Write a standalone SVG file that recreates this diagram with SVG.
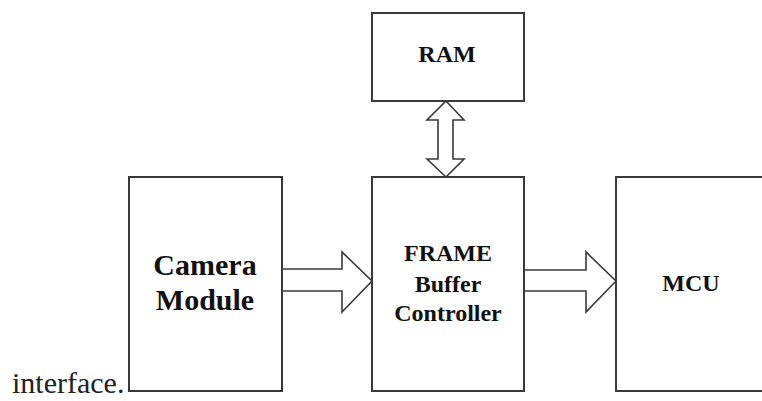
<svg xmlns="http://www.w3.org/2000/svg" width="762" height="401" viewBox="0 0 762 401">
<style>
.box{fill:#fff;stroke:#3a3a3a;stroke-width:2}
.arr{fill:#fff;stroke:#3a3a3a;stroke-width:1.6;stroke-linejoin:miter}
.lbl{font-size:24px;font-weight:bold;fill:#111;text-anchor:middle}
.big{font-size:30px}
.body{font-size:30px;fill:#222}
</style>
<rect width="762" height="401" fill="#fff"/>
<text class="body" font-family="Liberation Serif, serif" x="12" y="393">interface.</text>
<g id="connectors">
<path class="arr" d="M446,101 L464,120 L453,120 L453,159 L464,159 L446,177 L427,159 L438,159 L438,120 L427,120 Z"/>
<path class="arr" d="M282,269 L342,269 L342,252 L372,281 L342,312 L342,291 L282,291"/>
<path class="arr" d="M524,270 L586,270 L586,252 L616,281 L586,312 L586,291 L524,291"/>
</g>
<g id="ram" font-family="Liberation Serif, serif">
<rect class="box" x="372" y="13" width="152" height="88"/>
<text class="lbl" x="447" y="62">RAM</text>
</g>
<g id="camera" font-family="Liberation Serif, serif">
<rect class="box" x="129" y="177" width="153" height="214"/>
<text class="lbl big" x="205" y="275">Camera</text>
<text class="lbl big" x="205" y="310">Module</text>
</g>
<g id="frame" font-family="Liberation Serif, serif">
<rect class="box" x="372" y="177" width="152" height="214"/>
<text class="lbl" x="448" y="261" font-size="25">FRAME</text>
<text class="lbl" x="448" y="292" font-size="25">Buffer</text>
<text class="lbl" x="448" y="321" font-size="25">Controller</text>
</g>
<g id="mcu" font-family="Liberation Serif, serif">
<rect class="box" x="616" y="177" width="160" height="214"/>
<text class="lbl" x="691" y="291">MCU</text>
</g>
</svg>
